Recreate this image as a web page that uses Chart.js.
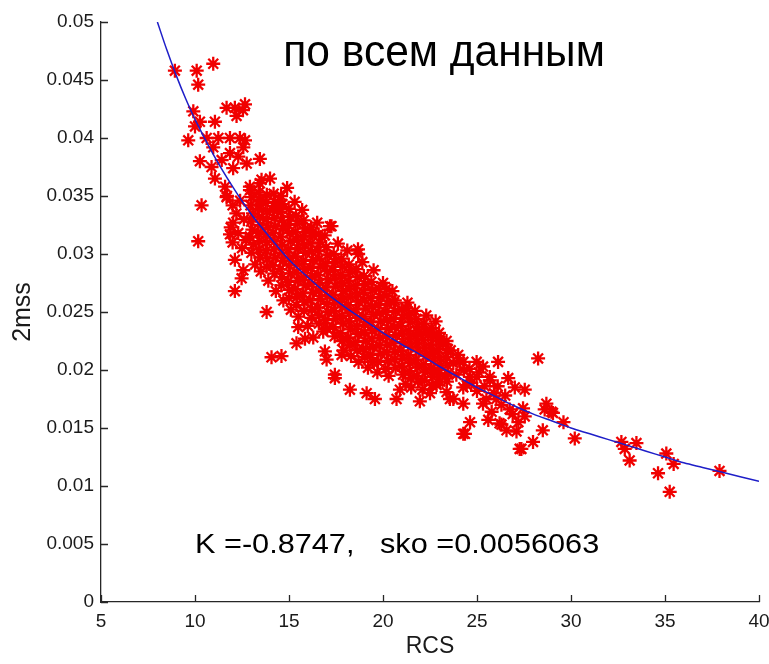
<!DOCTYPE html>
<html>
<head>
<meta charset="utf-8">
<script src="https://cdn.jsdelivr.net/npm/chart.js@4/dist/chart.umd.min.js"></script>
<style>
  html, body { margin: 0; padding: 0; background: #ffffff; }
  #wrap { width: 769px; height: 664px; }
</style>
</head>
<body>
<div id="wrap"><canvas id="c" width="769" height="664"></canvas></div>
<script>
// Tick values and labels
const xTicks = [5, 10, 15, 20, 25, 30, 35, 40];
const xTickLabels = ['5', '10', '15', '20', '25', '30', '35', '40'];
const yTicks = [0, 0.005, 0.01, 0.015, 0.02, 0.025, 0.03, 0.035, 0.04, 0.045, 0.05];
const yTickLabels = ['0', '0.005', '0.01', '0.015', '0.02', '0.025', '0.03', '0.035', '0.04', '0.045', '0.05'];

// Fitted regression curve: RCS -> 2mss
const fitRcs = [8, 8.5, 9, 9.5, 10, 11, 12, 13, 14, 15, 16, 17, 18, 19, 20, 21, 22, 23, 24, 25, 26, 27, 28, 29, 30, 31, 32, 33, 34, 35, 36, 37, 38, 39, 40];
const fitMss = [0.0500, 0.0476, 0.0454, 0.0434, 0.0416, 0.0385, 0.0358, 0.0334, 0.0314, 0.0295, 0.0280, 0.0266, 0.0254, 0.0243, 0.0232, 0.0222, 0.0213, 0.0203, 0.0194, 0.0185, 0.0177, 0.0169, 0.0162, 0.0156, 0.0150, 0.0145, 0.0140, 0.0135, 0.0130, 0.0125, 0.0120, 0.0116, 0.0112, 0.0108, 0.0104];

// Measurements [RCS, 2mss]: core of the cloud
const coreMeasurements = [
  [13.02,0.0349],[12.95,0.0342],[13.08,0.0335],[12.98,0.0328],[13.05,0.0321],[12.92,0.0315],[13.1,0.0308],[13.0,0.0301],
  [13.38,0.0353],[13.45,0.0346],[13.35,0.0339],[13.42,0.0332],[13.48,0.0325],[13.36,0.0318],[13.44,0.0311],[13.4,0.0304],[13.47,0.0297],
  [13.82,0.0351],[13.76,0.0344],[13.85,0.0337],[13.79,0.0330],[13.88,0.0323],[13.74,0.0317],[13.83,0.0310],[13.78,0.0303],[13.86,0.0296],[13.8,0.0289],
  [14.18,0.0352],[14.25,0.0345],[14.15,0.0338],[14.22,0.0331],[14.28,0.0324],[14.16,0.0318],[14.24,0.0311],[14.2,0.0304],[14.27,0.0297],[14.14,0.0290],[14.23,0.0283],
  [14.58,0.0350],[14.65,0.0343],[14.55,0.0336],[14.62,0.0329],[14.68,0.0322],[14.56,0.0315],[14.64,0.0308],[14.6,0.0301],[14.67,0.0294],[14.54,0.0287],[14.63,0.0280],[14.59,0.0273],
  [14.98,0.0339],[15.05,0.0332],[14.95,0.0325],[15.02,0.0318],[15.08,0.0311],[14.96,0.0304],[15.04,0.0297],[15.0,0.0290],[15.07,0.0283],[14.94,0.0276],[15.03,0.0269],[14.99,0.0262],
  [15.38,0.0333],[15.45,0.0326],[15.35,0.0319],[15.42,0.0312],[15.48,0.0305],[15.36,0.0298],[15.44,0.0291],[15.4,0.0284],[15.47,0.0277],[15.34,0.0270],[15.43,0.0263],[15.39,0.0256],
  [15.78,0.0329],[15.85,0.0322],[15.75,0.0315],[15.82,0.0308],[15.88,0.0301],[15.76,0.0294],[15.84,0.0287],[15.8,0.0280],[15.87,0.0273],[15.74,0.0266],[15.83,0.0259],[15.79,0.0251],
  [16.18,0.0323],[16.25,0.0316],[16.15,0.0309],[16.22,0.0302],[16.28,0.0295],[16.16,0.0288],[16.24,0.0281],[16.2,0.0274],[16.27,0.0267],[16.14,0.0260],[16.23,0.0252],[16.19,0.0245],
  [16.58,0.0317],[16.65,0.0310],[16.55,0.0303],[16.62,0.0296],[16.68,0.0289],[16.56,0.0282],[16.64,0.0275],[16.6,0.0268],[16.67,0.0261],[16.54,0.0254],[16.63,0.0247],[16.59,0.0240],
  [16.98,0.0306],[17.05,0.0299],[16.95,0.0292],[17.02,0.0285],[17.08,0.0278],[16.96,0.0271],[17.04,0.0264],[17.0,0.0257],[17.07,0.0250],[16.94,0.0243],[17.03,0.0236],
  [17.38,0.0300],[17.45,0.0293],[17.35,0.0286],[17.42,0.0279],[17.48,0.0272],[17.36,0.0265],[17.44,0.0258],[17.4,0.0251],[17.47,0.0244],[17.34,0.0237],[17.43,0.0229],
  [17.78,0.0296],[17.85,0.0289],[17.75,0.0282],[17.82,0.0275],[17.88,0.0268],[17.76,0.0261],[17.84,0.0254],[17.8,0.0247],[17.87,0.0240],[17.74,0.0232],[17.83,0.0225],
  [18.18,0.0291],[18.25,0.0284],[18.15,0.0277],[18.22,0.0270],[18.28,0.0263],[18.16,0.0256],[18.24,0.0249],[18.2,0.0242],[18.27,0.0235],[18.14,0.0228],[18.23,0.0221],
  [18.58,0.0287],[18.65,0.0280],[18.55,0.0273],[18.62,0.0266],[18.68,0.0259],[18.56,0.0252],[18.64,0.0245],[18.6,0.0238],[18.67,0.0231],[18.54,0.0224],[18.63,0.0217],
  [18.98,0.0281],[19.05,0.0274],[18.95,0.0267],[19.02,0.0260],[19.08,0.0253],[18.96,0.0246],[19.04,0.0239],[19.0,0.0232],[19.07,0.0225],[18.94,0.0218],[19.03,0.0211],
  [19.38,0.0276],[19.45,0.0269],[19.35,0.0262],[19.42,0.0255],[19.48,0.0248],[19.36,0.0241],[19.44,0.0234],[19.4,0.0227],[19.47,0.0220],[19.34,0.0213],[19.43,0.0207],
  [19.78,0.0270],[19.85,0.0263],[19.75,0.0256],[19.82,0.0249],[19.88,0.0242],[19.76,0.0235],[19.84,0.0228],[19.8,0.0221],[19.87,0.0214],[19.74,0.0207],
  [20.18,0.0264],[20.25,0.0257],[20.15,0.0250],[20.22,0.0243],[20.28,0.0236],[20.16,0.0229],[20.24,0.0222],[20.2,0.0215],[20.27,0.0208],[20.14,0.0201],
  [20.58,0.0258],[20.65,0.0251],[20.55,0.0244],[20.62,0.0237],[20.68,0.0230],[20.56,0.0223],[20.64,0.0216],[20.6,0.0209],[20.67,0.0202],
  [20.98,0.0252],[21.05,0.0245],[20.95,0.0238],[21.02,0.0231],[21.08,0.0224],[20.96,0.0217],[21.04,0.0210],[21.0,0.0203],[21.07,0.0196],
  [21.38,0.0248],[21.45,0.0241],[21.35,0.0234],[21.42,0.0227],[21.48,0.0220],[21.36,0.0213],[21.44,0.0206],[21.4,0.0199],[21.47,0.0193],
  [21.78,0.0244],[21.85,0.0237],[21.75,0.0230],[21.82,0.0223],[21.88,0.0216],[21.76,0.0209],[21.84,0.0202],[21.8,0.0195],[21.87,0.0190],
  [22.18,0.0240],[22.25,0.0233],[22.15,0.0226],[22.22,0.0219],[22.28,0.0212],[22.16,0.0205],[22.24,0.0198],[22.2,0.0191],
  [22.58,0.0236],[22.65,0.0229],[22.55,0.0222],[22.62,0.0215],[22.68,0.0208],[22.56,0.0201],[22.64,0.0194],[22.6,0.0187],
  [22.98,0.0232],[23.05,0.0225],[22.95,0.0218],[23.02,0.0211],[23.08,0.0204],[22.96,0.0197],[23.04,0.0190],
  [23.38,0.0225],[23.45,0.0218],[23.35,0.0211],[23.42,0.0204],[23.48,0.0197],[23.4,0.0190]
];

// Measurements [RCS, 2mss]: edges of the cloud and scattered points
const outerMeasurements = [
  [8.93,0.0458],[10.09,0.0458],[10.97,0.0464],[10.17,0.0446],
  [11.68,0.0426],[12.12,0.0426],[12.66,0.0429],[12.21,0.0419],[12.55,0.0424],
  [9.91,0.0423],[10.0,0.0410],[11.06,0.0414],[10.26,0.0414],
  [9.64,0.0398],[10.62,0.0400],[11.24,0.0400],[11.86,0.0400],[12.39,0.0400],[12.66,0.0398],[12.57,0.0392],
  [10.97,0.0392],[11.86,0.0387],[12.30,0.0384],[13.45,0.0382],[12.75,0.0378],[10.26,0.0380],[10.88,0.0375],[11.42,0.0381],[12.03,0.0374],[11.06,0.0365],
  [13.54,0.0364],[13.99,0.0365],[11.6,0.0358],[11.68,0.0349],[10.35,0.0342],[12.92,0.0355],[13.45,0.0347],[14.6,0.0343],
  [10.17,0.0311],[17.18,0.0324],[18.67,0.0304],
  [12.03,0.0327],[11.86,0.0317],[12.12,0.0295],[12.57,0.0286],[12.48,0.0279],[12.12,0.0268],[13.81,0.0250],[16.2,0.0318],[14.52,0.0342],[13.45,0.0361],[12.92,0.0358],
  [11.7,0.0350],[12.0,0.0342],[12.4,0.0346],[12.2,0.0335],[12.6,0.0330],[11.9,0.0323],[12.3,0.0318],[12.7,0.0312],[12.5,0.0305],[12.0,0.0310],
  [14.07,0.0211],[14.6,0.0212],[15.40,0.0223],[15.85,0.0227],[16.29,0.0228],[15.49,0.0237],[16.91,0.0216],[17.0,0.0209],[17.44,0.0193],[16.82,0.0233],
  [17.26,0.0324],[18.68,0.0300],[20.19,0.0270],[20.63,0.0260],[21.25,0.0253],[17.8,0.0213],[17.44,0.0196],
  [18.24,0.0183],[19.13,0.0180],[19.57,0.0175],[20.72,0.0175],[21.96,0.0173],[22.5,0.0180],[23.56,0.0175],[24.27,0.0145],[24.63,0.0155],
  [25.6,0.0157],[26.3,0.0153],[26.57,0.0148],[27.1,0.0147],[27.27,0.0132],[27.98,0.0138],[28.25,0.0210],[28.5,0.0148],[28.69,0.0171],[28.96,0.0164],
  [29.6,0.0155],[27.54,0.0183],[26.74,0.0166],[26.03,0.0175],[26.12,0.0207],[25.32,0.0203],[24.27,0.0207],[23.74,0.0206],[24.63,0.0194],[24.27,0.0185],[25.68,0.0194],
  [28.6,0.0166],[29.04,0.0163],[30.2,0.0141],[27.36,0.0132],[32.68,0.0138],[32.86,0.0132],[33.48,0.0137],[33.12,0.0122],[35.07,0.0128],[35.46,0.0119],
  [34.63,0.0111],[35.25,0.0095],[37.9,0.0113],[27.45,0.0167],[27.54,0.0160],
  [26.2,0.0154],[25.78,0.0164],[24.36,0.0145],[25.32,0.0171],[24.27,0.0171],[23.74,0.0175],[26.66,0.0193],[27.01,0.0185],[24.09,0.0207],[24.98,0.0207],
  [24.98,0.0194],[25.68,0.0191],[24.45,0.0187],[22.85,0.0187],[23.38,0.0181],[20.9,0.0183],[23.03,0.0227],[22.67,0.0214],[23.2,0.0222],[21.87,0.0232],[22.4,0.0230],
  [23.9,0.0196],[24.3,0.0200],[24.7,0.0189],[25.1,0.0198],[25.0,0.0182],[25.4,0.0186],[25.9,0.0180],[26.3,0.0170],[26.5,0.0178],[26.9,0.0162],
  [25.5,0.0175],[26.1,0.0186],[27.2,0.0155],[24.0,0.0213],[23.6,0.0217],[24.6,0.0201],[22.9,0.0200],[23.3,0.0195],[22.1,0.0183],[21.5,0.0185],
  [21.2,0.0188],[20.3,0.0195],[19.7,0.0198],[19.2,0.0202],[18.7,0.0207],[18.3,0.0212],[17.9,0.0217],[16.0,0.0238],[15.5,0.0246],[15.1,0.0252],
  [14.7,0.0260],[14.3,0.0268],[13.9,0.0277],[13.5,0.0285],[13.2,0.0291],[14.9,0.0357],[15.3,0.0345],[15.7,0.0338],[16.5,0.0327],[16.9,0.0316],
  [17.6,0.0309],[18.1,0.0303],[18.9,0.0293],[19.5,0.0286],[20.0,0.0275],[20.5,0.0268],[21.3,0.0258],[21.7,0.0251],[22.3,0.0247],[22.8,0.0242]
];

const titleText = 'по всем данным';
const statsText = 'K =-0.8747,   sko =0.0056063';
const xTitle = 'RCS';
const yTitle = '2mss';

const FONT = '"Liberation Sans", Arial, Helvetica, sans-serif';
const INK = '#1a1a1a';

// Draws a line of text between two x positions (data units) at a given y (data units)
function spanText(ctx, xs, ys, text, fontPx, x0, x1, y) {
  ctx.font = fontPx + 'px ' + FONT;
  const left = xs.getPixelForValue(x0);
  const span = xs.getPixelForValue(x1) - left;
  const k = span / ctx.measureText(text).width;
  ctx.save();
  ctx.translate(left, ys.getPixelForValue(y));
  ctx.scale(k, 1);
  ctx.fillText(text, 0, 0);
  ctx.restore();
}

// Inward tick marks and the text placed inside the axes
const axesDecor = {
  id: 'axesDecor',
  afterDraw(chart) {
    const ctx = chart.ctx;
    const xs = chart.scales.x, ys = chart.scales.y;
    const area = chart.chartArea;
    const len = 7;
    ctx.save();
    ctx.strokeStyle = '#262626';
    ctx.lineWidth = 1.3;
    ctx.beginPath();
    xTicks.forEach(v => {
      const px = Math.round(xs.getPixelForValue(v)) + 0.5;
      ctx.moveTo(px, area.bottom);
      ctx.lineTo(px, area.bottom - len);
    });
    yTicks.forEach(v => {
      const py = Math.round(ys.getPixelForValue(v)) + 0.5;
      ctx.moveTo(area.left, py);
      ctx.lineTo(area.left + len, py);
    });
    ctx.stroke();

    ctx.fillStyle = '#000000';
    ctx.textBaseline = 'middle';
    ctx.textAlign = 'left';
    spanText(ctx, xs, ys, titleText, 45, 14.7, 31.8, 0.0473);
    spanText(ctx, xs, ys, statsText, 28, 10, 31.5, 0.0049);
    ctx.restore();
  }
};

new Chart(document.getElementById('c'), {
  type: 'scatter',
  data: {
    datasets: [
      {
        label: 'fit',
        data: fitRcs.map((x, i) => ({ x, y: fitMss[i] })),
        showLine: true,
        borderColor: '#1e1ec8',
        borderWidth: 1.5,
        pointRadius: 0,
        cubicInterpolationMode: 'monotone',
        fill: false
      },
      {
        label: 'data',
        data: coreMeasurements.concat(outerMeasurements).map(p => ({ x: p[0], y: p[1] })),
        pointStyle: 'star',
        pointRadius: 7,
        borderColor: '#f00000',
        backgroundColor: '#f00000',
        borderWidth: 2.3
      }
    ]
  },
  options: {
    responsive: false,
    animation: false,
    devicePixelRatio: 1,
    layout: { padding: { top: 22, right: 10, left: 0, bottom: 0 } },
    plugins: {
      legend: { display: false },
      tooltip: { enabled: false },
      title: { display: false }
    },
    scales: {
      x: {
        type: 'linear',
        min: 5, max: 40,
        afterBuildTicks: s => { s.ticks = xTicks.map(v => ({ value: v })); },
        afterFit: s => { s.height = 62; s.paddingLeft = 0; s.paddingRight = 0; },
        grid: { display: false, drawTicks: false },
        border: { display: true, color: '#262626', width: 1.3 },
        ticks: {
          padding: 8,
          color: INK,
          font: { family: FONT, size: 19 },
          maxRotation: 0,
          callback: (v, i) => xTickLabels[i]
        },
        title: {
          display: true, text: xTitle, color: INK,
          font: { family: FONT, size: 23 }, padding: 4
        }
      },
      y: {
        type: 'linear',
        min: 0, max: 0.05,
        afterBuildTicks: s => { s.ticks = yTicks.map(v => ({ value: v })); },
        afterFit: s => { s.width = 101; s.paddingTop = 0; s.paddingBottom = 0; },
        grid: { display: false, drawTicks: false },
        border: { display: true, color: '#262626', width: 1.3 },
        ticks: {
          padding: 7,
          color: INK,
          font: { family: FONT, size: 19 },
          callback: (v, i) => yTickLabels[i]
        },
        title: {
          display: true, text: yTitle, color: INK,
          font: { family: FONT, size: 25 }, padding: 8
        }
      }
    }
  },
  plugins: [axesDecor]
});
</script>
</body>
</html>
